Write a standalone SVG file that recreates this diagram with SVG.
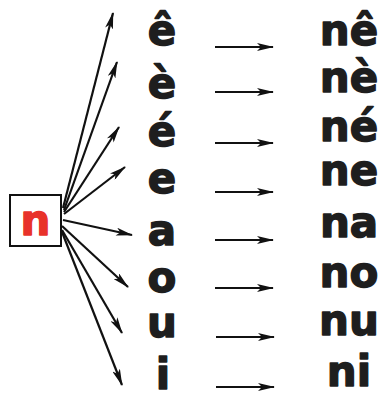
<svg xmlns="http://www.w3.org/2000/svg" width="387" height="396" viewBox="0 0 387 396">
<style>
.l{font-family:"DejaVu Sans","Liberation Sans",sans-serif;font-weight:bold;font-size:42px;fill:#1e1e1e;stroke:#1e1e1e;stroke-width:1.4;stroke-linejoin:round}
.c{text-anchor:middle}
.a{stroke:#111;stroke-width:2.2;fill:none;marker-end:url(#h)}
</style>
<defs>
<marker id="h" viewBox="0 0 17 8" refX="16" refY="4" markerWidth="17" markerHeight="8" markerUnits="userSpaceOnUse" orient="auto">
<path d="M0,0 L17,4 L0,8 L4,4 Z" fill="#111"/>
</marker>
</defs>
<rect width="387" height="396" fill="#fff"/>
<g id="node-n">
<rect x="10" y="195" width="51" height="51" fill="#fff" stroke="#111" stroke-width="2"/>
<text x="35.500" y="235" class="l c" style="fill:#e8322a;stroke:#e8322a">n</text>
</g>
<g id="left">
<g id="v1"><text x="162" y="45" class="l c">ê</text></g>
<g id="v2"><text x="162" y="98" class="l c">è</text></g>
<g id="v3"><text x="162" y="146" class="l c">é</text></g>
<g id="v4"><text x="162" y="193" class="l c">e</text></g>
<g id="v5"><text x="162" y="245" class="l c">a</text></g>
<g id="v6"><text x="162" y="292" class="l c">o</text></g>
<g id="v7"><text x="162" y="337" class="l c">u</text></g>
<g id="v8"><text x="163" y="389" class="l c">i</text></g>
</g>
<g id="right">
<g id="s1"><text x="349" y="45" class="l c">nê</text></g>
<g id="s2"><text x="349" y="92" class="l c">nè</text></g>
<g id="s3"><text x="349" y="141" class="l c">né</text></g>
<g id="s4"><text x="349" y="185" class="l c">ne</text></g>
<g id="s5"><text x="349" y="237" class="l c">na</text></g>
<g id="s6"><text x="349" y="287" class="l c">no</text></g>
<g id="s7"><text x="349" y="335" class="l c">nu</text></g>
<g id="s8"><text x="349" y="386" class="l c">ni</text></g>
</g>
<g id="connectors">
<line class="a" x1="63" y1="208" x2="113" y2="13"/>
<line class="a" x1="64" y1="210" x2="117" y2="62"/>
<line class="a" x1="64" y1="212" x2="119" y2="127"/>
<line class="a" x1="64" y1="214" x2="125" y2="167"/>
<line class="a" x1="63" y1="220" x2="132" y2="235"/>
<line class="a" x1="62" y1="226" x2="128" y2="287"/>
<line class="a" x1="62" y1="230" x2="122" y2="333"/>
<line class="a" x1="62" y1="232" x2="122" y2="385"/>
<line class="a" x1="215" y1="47" x2="273" y2="47"/>
<line class="a" x1="215" y1="92" x2="273" y2="92"/>
<line class="a" x1="215" y1="143" x2="273" y2="143"/>
<line class="a" x1="215" y1="192" x2="273" y2="192"/>
<line class="a" x1="215" y1="240" x2="273" y2="240"/>
<line class="a" x1="215" y1="288" x2="273" y2="288"/>
<line class="a" x1="216" y1="337" x2="274" y2="337"/>
<line class="a" x1="216" y1="387" x2="274" y2="387"/>
</g>
</svg>
